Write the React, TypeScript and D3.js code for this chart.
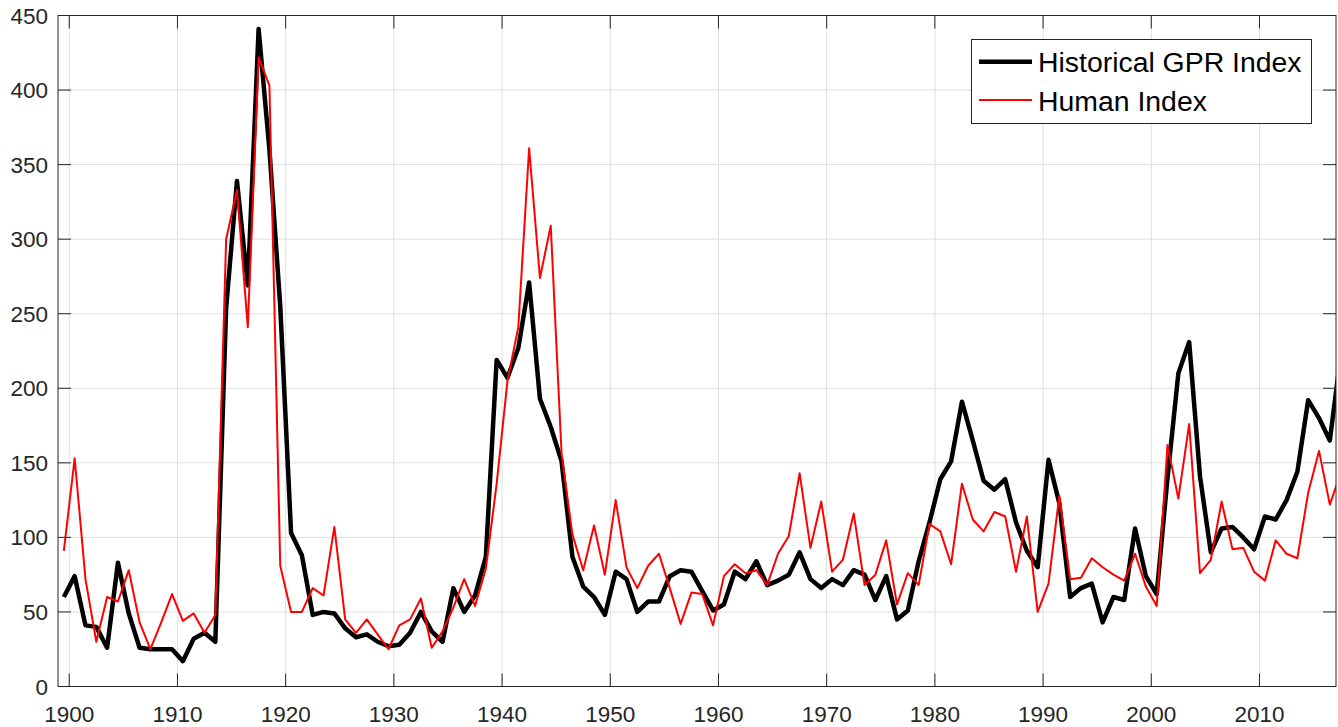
import React from 'react';
import * as d3 from 'd3';

// annual values, first year 1899, plotted at mid-year
const firstYear = 1899;

const gprIndex = [
  60, 74, 41, 40, 26, 83, 49, 26, 25, 25,
  25, 17, 32, 36, 30, 254, 339, 269, 441, 360,
  255, 103, 88, 48, 50, 49, 39, 33, 35, 30,
  27, 28, 36, 50, 37, 30, 66, 50, 61, 87,
  219, 207, 227, 271, 193, 174, 151, 87, 67, 60,
  48, 77, 72, 50, 57, 57, 74, 78, 77, 64,
  51, 55, 77, 72, 84, 68, 71, 75, 90, 72,
  66, 72, 68, 78, 75, 58, 74, 45, 51, 84,
  110, 139, 151, 191, 165, 138, 132, 139, 110, 91,
  80, 152, 123, 60, 66, 69, 43, 60, 58, 106,
  74, 62, 140, 210, 231, 141, 90, 106, 107, 100,
  92, 114, 112, 125, 144, 192, 180, 165, 222,
];

const humanIndex = [
  91, 153, 72, 30, 60, 57, 78, 43, 25, 43,
  62, 44, 49, 36, 48, 300, 333, 241, 422, 403,
  81, 50, 50, 66, 61, 107, 45, 36, 45, 35,
  25, 41, 45, 59, 26, 37, 53, 72, 54, 79,
  136, 205, 241, 361, 274, 309, 156, 102, 78, 108,
  75, 125, 80, 66, 81, 89, 66, 42, 63, 62,
  41, 74, 82, 76, 78, 68, 89, 101, 143, 93,
  124, 77, 85, 116, 68, 75, 98, 55, 76, 68,
  109, 104, 82, 136, 112, 104, 117, 114, 77, 114,
  50, 69, 128, 72, 73, 86, 80, 75, 71, 89,
  67, 54, 162, 126, 176, 76, 85, 124, 92, 93,
  77, 71, 98, 89, 86, 130, 158, 122, 143,
];

const xTicks = [1900, 1910, 1920, 1930, 1940, 1950, 1960, 1970, 1980, 1990, 2000, 2010];
const yTicks = [0, 50, 100, 150, 200, 250, 300, 350, 400, 450];

const seriesNames = ['Historical GPR Index', 'Human Index'];

const W = 1338;
const H = 727;
const left = 58;
const right = 1336;
const top = 15.5;
const bottom = 686.5;
const axisColor = '#262626';
const gridColor = '#dfdfdf';
const tickLen = 13;
const font = '"Liberation Sans", Arial, Helvetica, sans-serif';

export default function App() {
  const x = d3.scaleLinear().domain([1898.96, 2017.07]).range([left, right]);
  const y = d3.scaleLinear().domain([0, 450]).range([bottom, top]);

  const line = d3.line<number>()
    .x((_, i) => x(firstYear + i + 0.5))
    .y(d => y(d));

  return (
    <svg width={W} height={H} style={{ position: 'absolute', left: 0, top: 0, background: '#fff' }}>
      <defs>
        <clipPath id="plotClip">
          <rect x={left} y={top} width={right - left} height={bottom - top} />
        </clipPath>
      </defs>

      <rect x={0} y={0} width={W} height={H} fill="#fff" />

      {/* grid */}
      <g stroke={gridColor} strokeWidth={1}>
        {xTicks.map(t => (
          <line key={'gx' + t} x1={x(t)} x2={x(t)} y1={top} y2={bottom} />
        ))}
        {yTicks.slice(1, -1).map(t => (
          <line key={'gy' + t} x1={left} x2={right} y1={y(t)} y2={y(t)} />
        ))}
      </g>

      {/* series */}
      <g clipPath="url(#plotClip)" fill="none">
        <path d={line(gprIndex) || ''} stroke="#000" strokeWidth={4.5} strokeLinejoin="round" />
        <path d={line(humanIndex) || ''} stroke="#ff0000" strokeWidth={2} strokeLinejoin="round" />
      </g>

      {/* box + ticks */}
      <rect x={left} y={top} width={right - left} height={bottom - top} fill="none" stroke={axisColor} strokeWidth={1} />
      <g stroke={axisColor} strokeWidth={1}>
        {xTicks.map(t => (
          <g key={'tx' + t}>
            <line x1={x(t)} x2={x(t)} y1={bottom} y2={bottom - tickLen} />
            <line x1={x(t)} x2={x(t)} y1={top} y2={top + tickLen} />
          </g>
        ))}
        {yTicks.map(t => (
          <g key={'ty' + t}>
            <line x1={left} x2={left + tickLen} y1={y(t)} y2={y(t)} />
            <line x1={right} x2={right - tickLen} y1={y(t)} y2={y(t)} />
          </g>
        ))}
      </g>

      {/* tick labels */}
      <g fill={axisColor} fontFamily={font} fontSize={22.5}>
        {xTicks.map(t => (
          <text key={'lx' + t} x={x(t)} y={721.5} textAnchor="middle">{t}</text>
        ))}
        {yTicks.map(t => (
          <text key={'ly' + t} x={48} y={y(t) + 8} textAnchor="end">{t}</text>
        ))}
      </g>

      {/* legend */}
      <g>
        <rect x={971.5} y={39.5} width={340} height={84} fill="#fff" stroke={axisColor} strokeWidth={1} />
        <line x1={979} x2={1032} y1={61.7} y2={61.7} stroke="#000" strokeWidth={4.5} />
        <line x1={979} x2={1032} y1={100} y2={100} stroke="#ff0000" strokeWidth={2} />
        <text x={1038} y={72} fontFamily={font} fontSize={28.4} fill="#000">{seriesNames[0]}</text>
        <text x={1038} y={110.5} fontFamily={font} fontSize={28.4} fill="#000">{seriesNames[1]}</text>
      </g>
    </svg>
  );
}
